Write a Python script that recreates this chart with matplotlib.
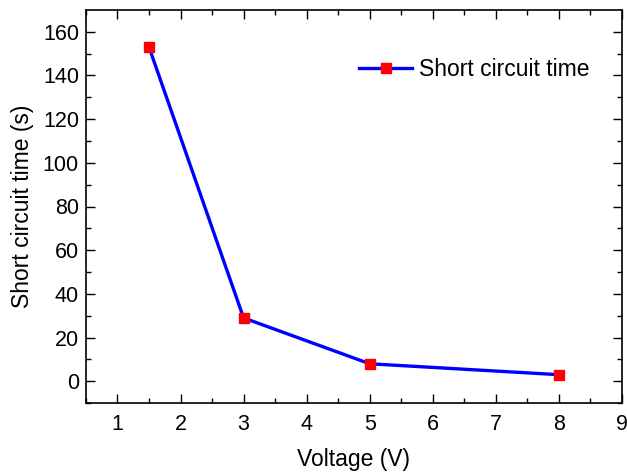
import numpy as np
import matplotlib.pyplot as plt

plt.rcParams['font.family'] = ['Liberation Sans', 'DejaVu Sans']

##### voltage and the measured short circuit time
voltage = [1.5, 3, 5, 8]
sc_time = [153, 29, 8, 3]

fig = plt.figure(figsize=(6.27, 4.72), dpi=100)
ax = fig.add_axes([0.137, 0.146, 0.855, 0.833])

ax.plot(voltage, sc_time, color='blue', lw=2.4, marker='s', ms=6.5,
        mfc='red', mec='red', label='Short circuit time')

ax.set_xlim([0.5, 9])
ax.set_ylim([-10, 170])
ax.set_xticks(np.arange(1, 10, 1))
ax.set_xticks(np.arange(0.5, 9.5, 0.5), minor=True)
ax.set_yticks(np.arange(0, 180, 20))
ax.set_yticks(np.arange(-10, 170, 10), minor=True)
ax.tick_params(which='both', direction='in', top=True, right=True,
               labelsize=15.5, width=1)
ax.tick_params(which='major', length=6.5)
ax.tick_params(which='minor', length=3.5)
ax.tick_params(axis='x', pad=8)
ax.tick_params(axis='y', pad=5)
for s in ax.spines.values():
    s.set_linewidth(1.2)

ax.set_xlabel('Voltage (V)', fontsize=16.5, labelpad=9)
ax.set_ylabel('Short circuit time (s)', fontsize=16.5, labelpad=6)
ax.legend(loc='upper right', frameon=False, fontsize=16.5,
          bbox_to_anchor=(0.978, 0.93), handlelength=2.3, handletextpad=0.3)

fig.savefig('out.png', dpi=100)
